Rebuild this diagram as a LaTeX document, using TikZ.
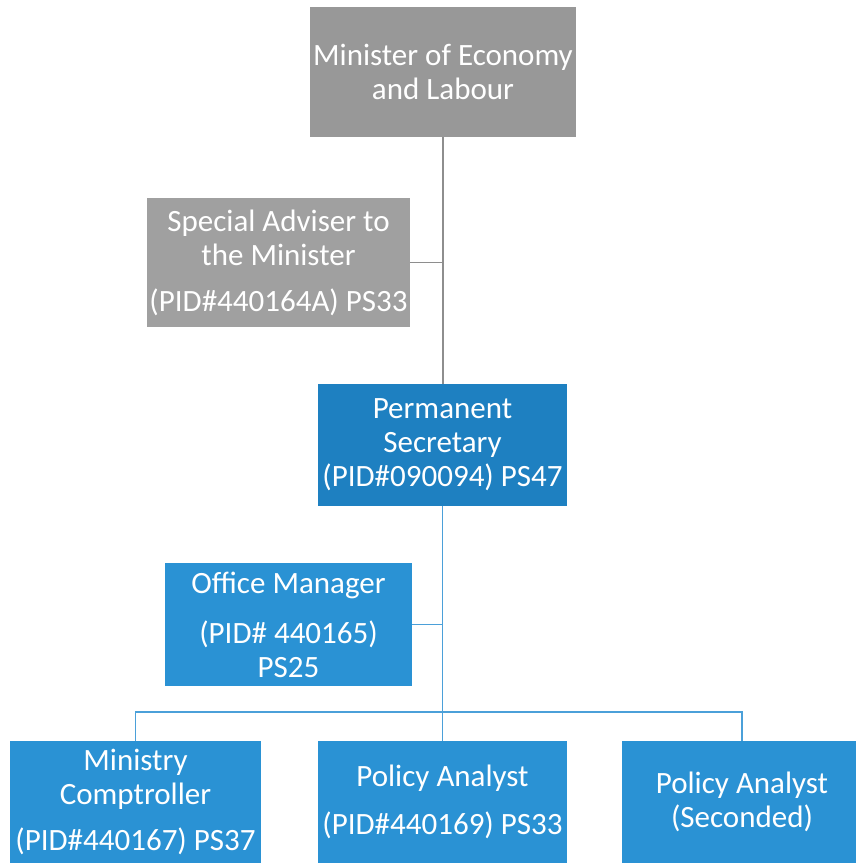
\documentclass[tikz,border=0pt]{standalone}
\usepackage{fontspec}
\setmainfont{Carlito}
\usetikzlibrary{calc}

\definecolor{boxgray}{HTML}{989898}
\definecolor{advgray}{HTML}{A0A0A0}
\definecolor{psblue}{HTML}{1E80C1}
\definecolor{boxblue}{HTML}{2A92D4}
\definecolor{linegray}{HTML}{8E8E8E}
\definecolor{lineblue}{HTML}{4BA0D9}

\begin{document}
\begin{tikzpicture}[x=0.5pt, y=-0.5pt,
    post/.style={rectangle, inner sep=0pt, text=white, align=center,
                 font=\fontsize{15.5}{17}\selectfont},
    grayline/.style={draw=linegray, line width=0.9pt},
    blueline/.style={draw=lineblue, line width=0.9pt}]
        \useasboundingbox (0,0) rectangle (856,863);
        \clip (0,0) rectangle (856,863);

        % Minister and adviser
        \node[post, fill=boxgray, minimum width=133pt, minimum height=65pt] (minister) at (443,72) {Minister of Economy\\and Labour};
        \node[post, fill=advgray, minimum width=131.5pt, minimum height=64.5pt] (adviser) at (278.5,262.5) {Special Adviser to\\the Minister\\[6pt](PID\#440164A) PS33};

        % Permanent secretary
        \node[post, fill=psblue, minimum width=124.5pt, minimum height=61pt] (secretary) at (442.5,445) {Permanent\\Secretary\\(PID\#090094) PS47};
        \node[post, fill=boxblue, minimum width=123.5pt, minimum height=61.5pt] (office) at (288.5,624.5) {Office Manager\\[8pt](PID\# 440165)\\PS25};

        % Staff
        \node[post, fill=boxblue, minimum width=125.5pt, minimum height=61pt] (comptroller) at (135.5,802) {Ministry\\Comptroller\\[6pt](PID\#440167) PS37};
        \node[post, fill=boxblue, minimum width=124.5pt, minimum height=61pt] (policy) at (442.5,802) {Policy Analyst\\[7pt](PID\#440169) PS33};
        \node[post, fill=boxblue, minimum width=120pt, minimum height=61pt] (seconded) at (742,802) {Policy Analyst\\(Seconded)};

        % Connections
        \draw[grayline] (minister.south) -- (minister.south |- secretary.north);
        \draw[grayline] (adviser.east) -- (adviser.east -| minister.south);
        \draw[blueline] (secretary.south) -- (secretary.south |- policy.north);
        \draw[blueline] (office.east) -- (office.east -| secretary.south);
        \draw[blueline] (comptroller.north) -- ++(0,-29) -| (seconded.north);
\end{tikzpicture}
\end{document}
